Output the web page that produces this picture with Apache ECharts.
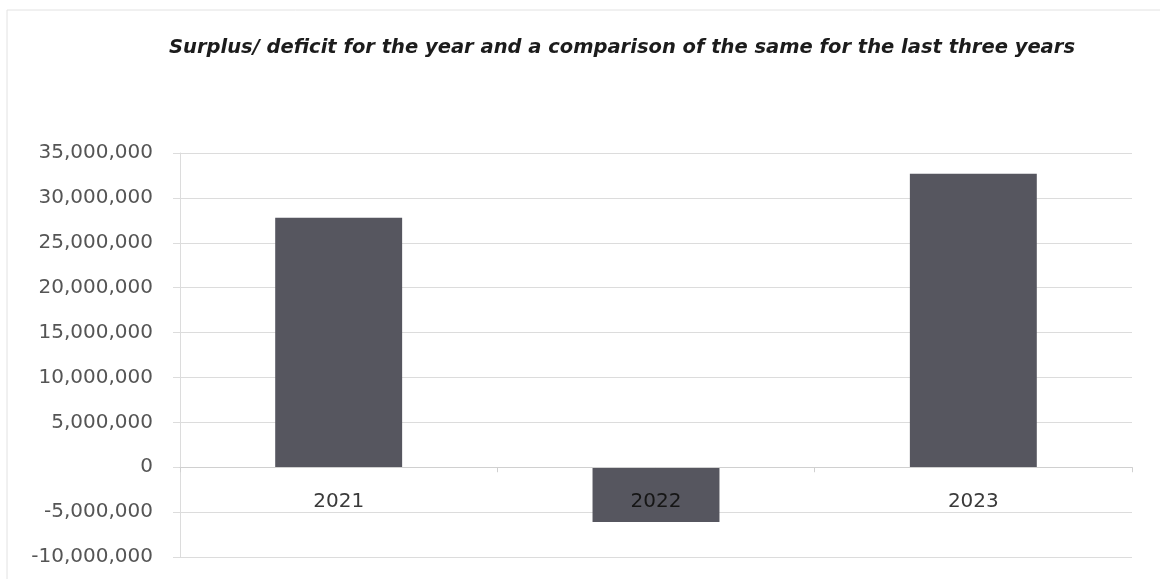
<!DOCTYPE html>
<html>
<head>
<meta charset="utf-8">
<script src="https://cdn.jsdelivr.net/npm/echarts@6/dist/echarts.min.js"></script>
<style>
  html, body { margin: 0; padding: 0; background: #ffffff; }
  #chart { width: 1160px; height: 579px; }
</style>
</head>
<body>
<div id="chart"></div>
<script>
// Surplus / deficit per financial year
const years = ['2021', '2022', '2023'];
const surplus = [27800000, -6100000, 32700000];

// Value axis range and step
const yMin = -10000000;
const yMax = 35000000;
const yStep = 5000000;

const chartTitle = 'Surplus/ deficit for the year and a comparison of the same for the last three years';

const chart = echarts.init(document.getElementById('chart'), null, { renderer: 'canvas' });

const labelFont = 'DejaVu Sans';

chart.setOption({
  backgroundColor: '#ffffff',
  animation: false,
  title: {
    text: chartTitle,
    left: 617,
    top: 33,
    textAlign: 'center',
    textStyle: {
      fontFamily: labelFont,
      fontStyle: 'italic',
      fontWeight: 'bold',
      fontSize: 19.5,
      color: '#1c1c1c'
    }
  },
  graphic: [{
    type: 'rect',
    shape: { x: 7, y: 10, width: 1160, height: 575 },
    style: { fill: 'none', stroke: '#e2e2e2', lineWidth: 1 },
    silent: true
  }],
  grid: {
    left: 180,
    right: 28,
    top: 153,
    bottom: 22,
    outerBoundsMode: 'none',
    containLabel: false
  },
  xAxis: {
    type: 'category',
    data: years,
    axisLine: { onZero: true, lineStyle: { color: '#d0d0d0', width: 1 } },
    axisTick: { show: true, length: 5, lineStyle: { color: '#d0d0d0' } },
    // year labels sit just under the zero line, inside the plot
    axisLabel: {
      margin: -65,
      fontFamily: labelFont,
      fontSize: 20,
      // darker text where the label lies on top of a deficit bar
      color: (value, index) => (surplus[index] < 0 ? '#151515' : '#3a3a3a')
    },
    z: 10
  },
  yAxis: {
    type: 'value',
    min: yMin,
    max: yMax,
    interval: yStep,
    axisLine: { show: true, lineStyle: { color: '#dcdcdc' } },
    axisTick: { show: true, length: 7, lineStyle: { color: '#dcdcdc' } },
    splitLine: { show: true, lineStyle: { color: '#dcdcdc', width: 1 } },
    axisLabel: {
      margin: 27,
      fontFamily: labelFont,
      fontSize: 20,
      color: '#555555',
      formatter: v => v.toLocaleString('en-US')
    }
  },
  series: [{
    type: 'bar',
    data: surplus,
    barWidth: '40%',
    itemStyle: { color: '#56565f' },
    z: 2
  }]
});
</script>
</body>
</html>
